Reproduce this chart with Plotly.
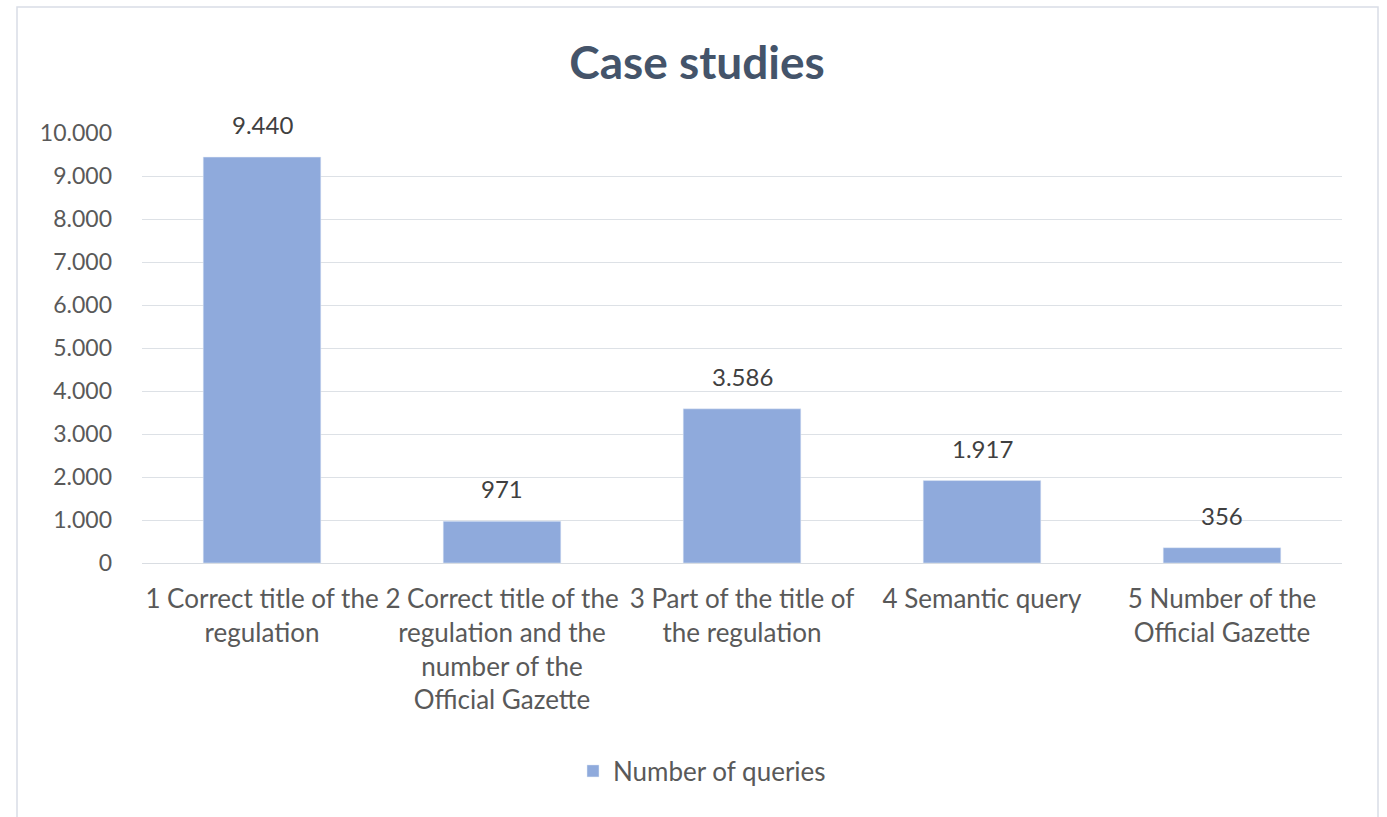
import plotly.graph_objects as go

categories = [
    "1 Correct title of the<br>regulation",
    "2 Correct title of the<br>regulation and the<br>number of the<br>Official Gazette",
    "3 Part of the title of<br>the regulation",
    "4 Semantic query",
    "5 Number of the<br>Official Gazette",
]
values = [9440, 971, 3586, 1917, 356]
labels = ["9.440", "971", "3.586", "1.917", "356"]
series_name = "Number of queries"
y_ticks = list(range(0, 10001, 1000))

W, H = 1387, 817
L, R, T, B = 142, 45, 133, 254
ph = H - T - B
pw = W - L - R

fig = go.Figure()
fig.add_trace(go.Bar(
    x=categories, y=values, name=series_name,
    marker=dict(color="#8FAADC"),
    cliponaxis=False,
))
for c, v, t in zip(categories, values, labels):
    fig.add_annotation(x=c, y=v, text=t, showarrow=False, yanchor="bottom",
                       yshift=16, font=dict(size=24, color="#404040", family="Lato"))

fig.update_layout(
    width=W, height=H,
    margin=dict(l=L, r=R, t=T, b=B),
    paper_bgcolor="white", plot_bgcolor="white",
    font=dict(family="Lato", color="#595959", size=23),
    separators=",.",
    bargap=0.51,
    title=dict(text="<b>Case studies</b>", x=697 / W, xanchor="center",
               y=1 - 63 / H, yanchor="middle", yref="container",
               font=dict(size=46, color="#44546A", family="Lato")),
    showlegend=True,
    legend=dict(orientation="h", x=(702 - L) / pw, xanchor="center",
                y=(563 - 771) / ph, yanchor="middle",
                font=dict(size=26, color="#595959")),
    xaxis=dict(showgrid=False, showline=False, ticks="", tickfont=dict(size=26),
               ticklabelstandoff=18),
    yaxis=dict(range=[0, 10000], tickvals=y_ticks, tickformat=",d",
               showgrid=True, gridcolor="#DDE1E6", gridwidth=1,
               zeroline=True, zerolinecolor="#D9DDE2", zerolinewidth=1, showline=False,
               ticks="", tickfont=dict(size=23), ticklabelstandoff=29),
)
fig.add_shape(type="rect", xref="paper", yref="paper",
              x0=(17 - L) / pw, x1=(1378 - L) / pw,
              y0=(563 - 830) / ph, y1=(563 - 7) / ph,
              line=dict(color="#D9DDE6", width=1.5), fillcolor="rgba(0,0,0,0)",
              layer="below")
fig.write_html("out.html", config={"displayModeBar": False},
               post_script="document.body.style.margin='0';")
